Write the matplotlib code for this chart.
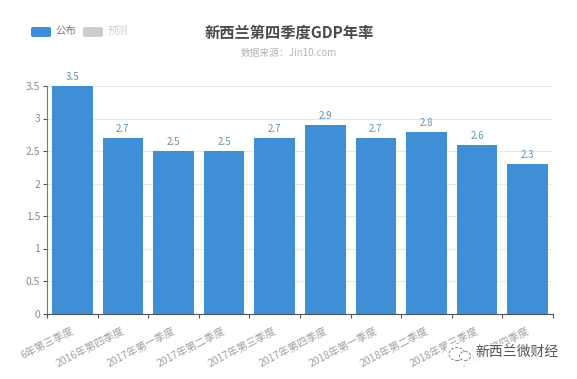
"""新西兰第四季度GDP年率 bar chart."""

import matplotlib
matplotlib.use("Agg")
import matplotlib.pyplot as plt
from matplotlib.patches import Ellipse, FancyBboxPatch

plt.rcParams["font.family"] = ["Noto Sans CJK SC", "DejaVu Sans"]

W, H = 577, 379

quarters = [
    "6年第三季度", "2016年第四季度", "2017年第一季度", "2017年第二季度",
    "2017年第三季度", "2017年第四季度", "2018年第一季度", "2018年第二季度",
    "2018年第三季度", "2018年第四季度",
]
gdp_rate = [3.5, 2.7, 2.5, 2.5, 2.7, 2.9, 2.7, 2.8, 2.6, 2.3]
y_ticks = [0, 0.5, 1, 1.5, 2, 2.5, 3, 3.5]
y_tick_labels = ["0", "0.5", "1", "1.5", "2", "2.5", "3", "3.5"]

BLUE = "#3f8fd6"
GREY = "#8c8c8c"

fig = plt.figure(figsize=(W / 100, H / 100), dpi=100, facecolor="white")
ax = fig.add_axes([47 / W, 1 - 313.5 / H, (553 - 47) / W, (313.5 - 86) / H])

x = list(range(len(gdp_rate)))
ax.bar(x, gdp_rate, width=0.8, color=BLUE, zorder=3)
for xi, v in zip(x, gdp_rate):
    ax.text(xi, v + 0.06, f"{v}", ha="center", va="bottom", fontsize=7,
            color="#5f95b8", zorder=4)

ax.set_xlim(-0.5, 9.5)
ax.set_ylim(0, 3.5)
ax.set_yticks(y_ticks, y_tick_labels, fontsize=7.5, color=GREY)
ax.set_xticks([i - 0.5 for i in x] + [9.5])
ax.set_xticklabels([])
ax.tick_params(axis="both", length=3, width=0.8, color="#555555", pad=2)
ax.grid(axis="y", color="#e8e8e8", lw=0.9, zorder=0)
ax.set_axisbelow(True)
for side in ("top", "right"):
    ax.spines[side].set_visible(False)
ax.spines["left"].set_color("#777777")
ax.spines["bottom"].set_color("#555555")

# rotated category labels, right end under the bar centre
for xi, label in zip(x, quarters):
    ax.annotate(label, (xi, 0), xytext=(-1, -9), textcoords="offset points",
                ha="right", va="top", rotation=27, rotation_mode="anchor",
                fontsize=7.5, color="#a0a0a0", annotation_clip=False)

# title block
fig.text(289 / W, 1 - 33 / H, "新西兰第四季度GDP年率", ha="center", va="center",
         fontsize=11, fontweight="bold", color="#4a4a4a")
fig.text(289 / W, 1 - 53 / H, "数据来源：Jin10.com", ha="center", va="center",
         fontsize=7, color="#b5b5b5")

# legend
for x0, col in ((31, BLUE), (83, "#cccccc")):
    fig.add_artist(FancyBboxPatch(
        (x0 / W, 1 - 37 / H), 20 / W, 10 / H, transform=fig.transFigure,
        boxstyle="round,pad=0,rounding_size=0.004", fc=col, ec="none"))
fig.text(55 / W, 1 - 31 / H, "公布", ha="left", va="center", fontsize=7.5, color="#777777")
fig.text(108 / W, 1 - 31 / H, "预测", ha="left", va="center", fontsize=7.5, color="#d0d0d0")

# watermark
fig.add_artist(plt.Rectangle((447 / W, 1 - 366 / H), 115 / W, 22 / H,
                             transform=fig.transFigure, fc="white", ec="none", alpha=0.85))
fig.add_artist(Ellipse((457 / W, 1 - 354 / H), 16 / W, 13 / H, transform=fig.transFigure,
                       fc="none", ec="#888888", lw=0.7, ls=(0, (3, 1.5))))
fig.add_artist(Ellipse((465 / W, 1 - 356 / H), 11 / W, 9 / H, transform=fig.transFigure,
                       fc="white", ec="#888888", lw=0.7, ls=(0, (3, 1.5))))
fig.text(475 / W, 1 - 352 / H, "新西兰微财经", ha="left", va="center", fontsize=10, color="#555555")

fig.savefig("out.png", dpi=100)
plt.close(fig)
